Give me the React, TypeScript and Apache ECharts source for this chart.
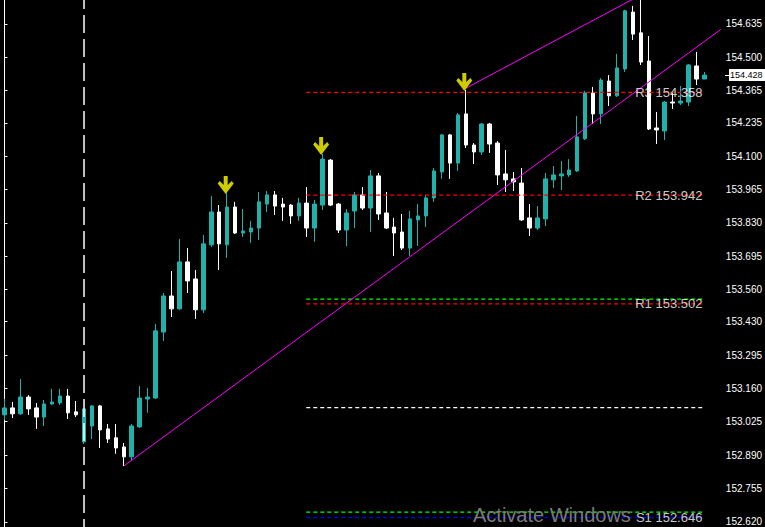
import React, { useEffect, useRef } from "react";
import * as echarts from "echarts";

const opens = [
  153.053, 153.081, 153.057, 153.125, 153.081, 153.044, 153.097, 153.101, 153.129, 153.065,
  152.943, 153.008, 153.089, 152.996, 152.96, 152.923, 152.883, 153.004, 153.117, 153.121,
  153.388, 153.534, 153.482, 153.672, 153.603, 153.478, 153.741, 153.874, 153.741, 153.894,
  153.789, 153.793, 153.809, 153.906, 153.943, 153.906, 153.902, 153.858, 153.91, 153.809,
  153.902, 154.084, 153.906, 153.801, 153.878, 153.943, 153.89, 154.02, 153.87, 153.813,
  153.793, 153.728, 153.842, 153.858, 153.931, 154.036, 154.186, 154.072, 154.271, 154.145,
  154.117, 154.23, 154.153, 154.028, 154.008, 153.991, 153.85, 153.809, 153.846, 154.004,
  154.02, 154.024, 154.04, 154.17, 154.356, 154.271, 154.404, 154.344, 154.453, 154.683,
  154.599, 154.485, 154.214, 154.202, 154.319, 154.315, 154.319, 154.465, 154.412,
];
const closes = [
  153.081, 153.057, 153.125, 153.077, 153.044, 153.097, 153.105, 153.129, 153.061, 153.053,
  153.077, 153.089, 152.992, 152.955, 152.919, 152.883, 153.008, 153.121, 153.125, 153.393,
  153.534, 153.482, 153.672, 153.595, 153.478, 153.745, 153.874, 153.745, 153.894, 153.789,
  153.797, 153.809, 153.915, 153.943, 153.898, 153.894, 153.858, 153.91, 153.809, 153.906,
  154.088, 153.902, 153.801, 153.87, 153.943, 153.89, 154.02, 153.866, 153.809, 153.789,
  153.728, 153.846, 153.858, 153.931, 154.04, 154.186, 154.072, 154.267, 154.145, 154.117,
  154.23, 154.149, 154.024, 154.004, 153.996, 153.842, 153.809, 153.85, 154.008, 154.024,
  154.028, 154.044, 154.178, 154.356, 154.271, 154.408, 154.344, 154.457, 154.688, 154.594,
  154.481, 154.21, 154.206, 154.319, 154.315, 154.323, 154.469, 154.412, 154.428,
];
const lows = [
  153.032, 153.04, 153.053, 153.053, 152.996, 153.008, 153.093, 153.093, 153.036, 153.044,
  152.935, 152.955, 152.919, 152.939, 152.895, 152.846, 152.87, 153.0, 153.061, 153.117,
  153.352, 153.449, 153.478, 153.546, 153.441, 153.465, 153.732, 153.639, 153.688, 153.785,
  153.773, 153.749, 153.761, 153.874, 153.862, 153.838, 153.826, 153.838, 153.773, 153.753,
  153.882, 153.898, 153.789, 153.736, 153.809, 153.882, 153.793, 153.842, 153.805, 153.696,
  153.72, 153.696, 153.736, 153.813, 153.915, 154.008, 154.008, 154.04, 154.133, 154.068,
  154.105, 154.113, 153.983, 153.955, 153.959, 153.838, 153.777, 153.801, 153.817, 153.971,
  153.963, 154.016, 154.036, 154.165, 154.23, 154.23, 154.303, 154.34, 154.441, 154.57,
  154.469, 154.206, 154.149, 154.165, 154.291, 154.307, 154.303, 154.388, 154.412,
];
const highs = [
  153.117, 153.105, 153.198, 153.133, 153.101, 153.113, 153.158, 153.158, 153.158, 153.109,
  153.081, 153.093, 153.093, 153.016, 153.016, 152.939, 153.016, 153.17, 153.162, 153.421,
  153.546, 153.635, 153.765, 153.728, 153.639, 153.781, 153.939, 153.902, 153.951, 153.915,
  153.886, 153.838, 153.955, 153.959, 153.959, 153.931, 153.906, 153.931, 153.975, 153.923,
  154.109, 154.088, 153.91, 153.886, 153.955, 153.975, 154.044, 154.032, 153.955, 153.85,
  153.866, 153.878, 153.906, 153.943, 154.052, 154.19, 154.19, 154.275, 154.368, 154.153,
  154.234, 154.234, 154.161, 154.125, 154.036, 154.052, 153.906, 153.898, 154.032, 154.06,
  154.08, 154.088, 154.263, 154.364, 154.38, 154.416, 154.428, 154.514, 154.692, 154.708,
  154.735, 154.586, 154.279, 154.323, 154.36, 154.384, 154.473, 154.522, 154.441,
];

const yTicks = [
  152.62, 152.755, 152.89, 153.025, 153.16, 153.295, 153.43, 153.56,
  153.695, 153.83, 153.965, 154.1, 154.235, 154.365, 154.5, 154.635,
];
const yMin = 152.599;
const yMax = 154.732;
const xMin = -0.5625;
const xMax = 90.0625;

const arrowBars = [28, 40, 58];
const separatorBar = 10;
const trendLower = [[15, 152.846], [90.06, 154.613]];
const trendUpper = [[58, 154.375], [90.06, 154.925]];

const levelNames = ["R3 154.358", "R2 153.942", "R1 153.502", "S1 152.646"];
const levelValues = [154.358, 153.942, 153.502, 152.637];
const levelColors = ["#ff0000", "#ff0000", "#ff0000", "#0000ff"];
const extraLevels = [153.521, 153.082, 152.659];
const extraColors = ["#00ff00", "#ffffff", "#00ff00"];
const levelRange = [37.94, 87.81];
const lastPrice = 154.428;

const FONT = '"Liberation Sans", Arial, sans-serif';

export default function App() {
  const ref = useRef<HTMLDivElement>(null);

  useEffect(() => {
    document.body.style.margin = "0";
    document.body.style.background = "#000";
    if (!ref.current) return;
    const chart = echarts.init(ref.current, undefined, { renderer: "svg" });

    const lineSeries: any[] = [];
    levelValues.forEach((v, i) => {
      lineSeries.push({
        type: "line",
        data: [[levelRange[0], v], [levelRange[1], v]],
        symbol: "none",
        silent: true,
        z: 4,
        lineStyle: { color: levelColors[i], width: 1.2, type: [4, 3] },
      });
    });
    extraLevels.forEach((v, i) => {
      lineSeries.push({
        type: "line",
        data: [[levelRange[0], v], [levelRange[1], v]],
        symbol: "none",
        silent: true,
        z: 4,
        lineStyle: { color: extraColors[i], width: 1.2, type: [4, 3] },
      });
    });

    const option: any = {
      animation: false,
      backgroundColor: "#000000",
      textStyle: { fontFamily: FONT },
      grid: { left: 0, right: 40, top: 0, bottom: 0, containLabel: false },
      xAxis: { type: "value", min: xMin, max: xMax, show: false },
      yAxis: {
        type: "value",
        position: "right",
        min: yMin,
        max: yMax,
        scale: true,
        axisLine: { show: true, lineStyle: { color: "#ffffff", width: 1 } },
        axisTick: {
          show: true,
          length: 3,
          lineStyle: { color: "#ffffff" },
          customValues: yTicks,
        },
        axisLabel: {
          show: true,
          color: "#ffffff",
          fontSize: 10,
          fontFamily: FONT,
          margin: 5,
          customValues: yTicks,
          formatter: (v: number) => v.toFixed(3),
        },
        splitLine: { show: false },
      },
      series: [
        {
          type: "candlestick",
          data: opens.map((o, i) => [i, o, closes[i], lows[i], highs[i]]),
          encode: { x: 0, y: [1, 2, 3, 4] },
          barWidth: 4,
          z: 2,
          itemStyle: {
            color: "#20b2aa",
            color0: "#ffffff",
            borderColor: "#20b2aa",
            borderColor0: "#ffffff",
            borderWidth: 1,
          },
        },
        ...lineSeries,
        {
          type: "line",
          data: [[separatorBar, yMax], [separatorBar, yMin]],
          symbol: "none",
          silent: true,
          z: 5,
          lineStyle: { color: "#ffffff", width: 1.5, type: [18, 6], dashOffset: 9 },
        },
        {
          type: "line",
          data: trendLower,
          symbol: "none",
          silent: true,
          z: 5,
          lineStyle: { color: "#ff00ff", width: 1 },
        },
        {
          type: "line",
          data: trendUpper,
          symbol: "none",
          silent: true,
          z: 5,
          lineStyle: { color: "#ff00ff", width: 1 },
        },
        {
          type: "scatter",
          data: arrowBars.map((k) => [k, highs[k]]),
          symbol: "path://M6 0L10 0L10 9L14 5L16 7.5L8 18L0 7.5L2 5L6 9Z",
          symbolSize: [16, 18],
          symbolOffset: [-1.5, -8],
          silent: true,
          z: 6,
          itemStyle: { color: "#ffff00" },
        },
        {
          type: "scatter",
          data: levelValues.map((v, i) => ({ value: [levelRange[1], v], name: levelNames[i] })),
          symbolSize: 1,
          silent: true,
          z: 7,
          itemStyle: { color: "rgba(0,0,0,0)" },
          label: {
            show: true,
            position: "left",
            distance: 0,
            color: "#ffffff",
            fontSize: 13,
            fontFamily: FONT,
            formatter: (p: any) => p.name,
          },
        },
      ],
    };

    chart.setOption(option);

    const py = chart.convertToPixel({ yAxisIndex: 0 }, lastPrice) as number;
    chart.setOption({
      graphic: [
        {
          type: "rect",
          shape: { x: 729, y: Math.round(py) - 6, width: 36, height: 12 },
          style: { fill: "#ffffff" },
          silent: true,
          z: 100,
        },
        {
          type: "line",
          shape: { x1: 725, y1: Math.round(py) + 0.5, x2: 729, y2: Math.round(py) + 0.5 },
          style: { stroke: "#ffffff", lineWidth: 1 },
          silent: true,
          z: 100,
        },
        {
          type: "text",
          x: 730,
          y: Math.round(py),
          silent: true,
          z: 101,
          style: {
            text: lastPrice.toFixed(3),
            fill: "#000000",
            font: '9px "Liberation Sans", Arial, sans-serif',
            verticalAlign: "middle",
            align: "left",
          },
        },
        {
          type: "text",
          left: 473,
          top: 505,
          z: 100,
          silent: true,
          style: {
            text: "Activate Windows",
            fill: "#7a7a7a",
            font: '20px "Liberation Sans", Arial, sans-serif',
          },
        },
      ],
    });

    return () => chart.dispose();
  }, []);

  return (
    <div
      ref={ref}
      style={{ position: "absolute", left: 0, top: 0, width: 765, height: 527, background: "#000" }}
    />
  );
}
